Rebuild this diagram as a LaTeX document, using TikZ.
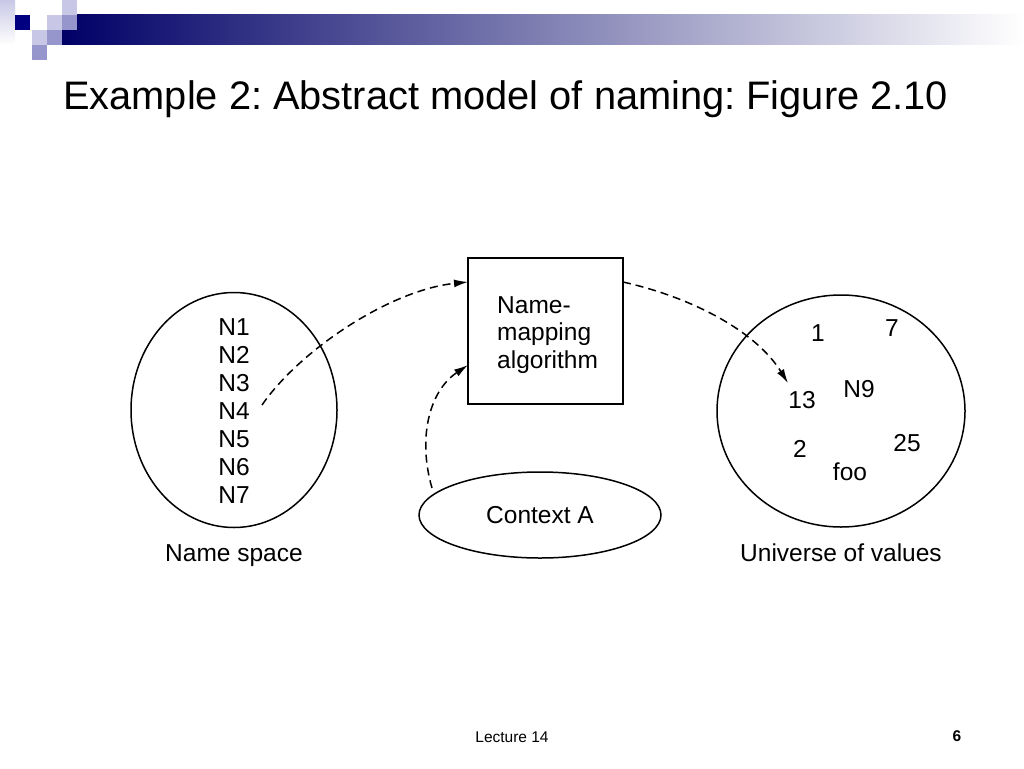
\documentclass[tikz,border=0pt]{standalone}
\usepackage{fontspec}
\setmainfont{Liberation Sans}
\usetikzlibrary{shapes.geometric,arrows.meta}
\definecolor{navy}{RGB}{0,0,128}
\definecolor{pale}{RGB}{200,200,230}
\definecolor{mid}{RGB}{150,150,205}
\frenchspacing
\begin{document}
\begin{tikzpicture}[x=1pt,y=-1pt,
  lbl/.style={inner sep=0pt,font=\fontsize{24.5}{28}\selectfont},
  shape line/.style={draw,line width=1.5pt},
  conn/.style={line width=1.5pt,dash pattern=on 8pt off 5pt,-{Latex[length=14pt,width=8pt]}}]
\useasboundingbox (0,0) rectangle (1024,768);
\fill[white] (0,0) rectangle (1024,768);
% decoration
\shade[left color=navy!85!blue!70!black,right color=white] (62,15) rectangle (1024,45);
\shade[top color=pale,bottom color=white] (0,0) rectangle (15,45);
\fill[navy] (15,15) rectangle (30,30);
\fill[pale] (47,15) rectangle (62,30);
\fill[mid] (62,15) rectangle (77,30);
\fill[pale] (62,0) rectangle (77,15);
\fill[pale] (32,30) rectangle (47,45);
\fill[mid] (47,30) rectangle (62,45);
\fill[mid] (32,45) rectangle (47,60);
% title
\node[anchor=base west,inner sep=0pt,font=\fontsize{39.8}{48}\selectfont] (title) at (63,109) {Example 2: Abstract model of naming: Figure 2.10};
% left circle
\node[shape line,ellipse,minimum width=206pt,minimum height=235pt,inner sep=0pt] (ns) at (234,410) {};
\node[lbl,align=center,anchor=base] (nlist) at (234,503) {N1\\N2\\N3\\N4\\N5\\N6\\N7};
\coordinate (n4) at (262,405);
\node[lbl,anchor=base] (nslbl) at (234,561) {Name space};
% box
\node[shape line,rectangle,minimum width=155pt,minimum height=146pt,inner sep=0pt] (box) at (545.5,331) {};
\node[lbl,align=left,anchor=base west,font=\fontsize{24.5}{27.5}\selectfont] (boxtxt) at (497,368) {Name-\\mapping\\algorithm};
\coordinate (boxin1) at (468,282);
\coordinate (boxin2) at (468,365);
\coordinate (boxout) at (623,282);
% context
\node[shape line,ellipse,minimum width=242pt,minimum height=86pt,inner sep=0pt] (ctx) at (540,515) {};
\node[lbl] (ctxtxt) at (540,515) {Context A};
\coordinate (ctxtop) at (432,488);
% right circle
\node[shape line,ellipse,minimum width=248pt,minimum height=232pt,inner sep=0pt] (uv) at (841,411) {};
\node[lbl] (v1) at (818,333) {1};
\node[lbl] (v7) at (892,328) {7};
\node[lbl] (v13) at (802,400) {13};
\node[lbl] (vn9) at (859,389) {N9};
\node[lbl] (v2) at (800,449) {2};
\node[lbl] (v25) at (907,443) {25};
\node[lbl] (vfoo) at (850,472) {foo};
\node[lbl,anchor=base] (uvlbl) at (841,561) {Universe of values};
\coordinate (v13in) at (788,383);
% connectors
\draw[conn] (n4) .. controls (300,350) and (390,290) .. (boxin1);
\draw[conn] (ctxtop) .. controls (418,440) and (428,392) .. (boxin2);
\draw[conn] (boxout) .. controls (690,297) and (755,330) .. (v13in);
% footer
\node[inner sep=0pt,font=\fontsize{15.5}{18}\selectfont] (foot) at (512,737) {Lecture 14};
\node[inner sep=0pt,font=\fontsize{15.5}{18}\selectfont\bfseries] (page) at (957,736) {6};
\end{tikzpicture}
\end{document}
